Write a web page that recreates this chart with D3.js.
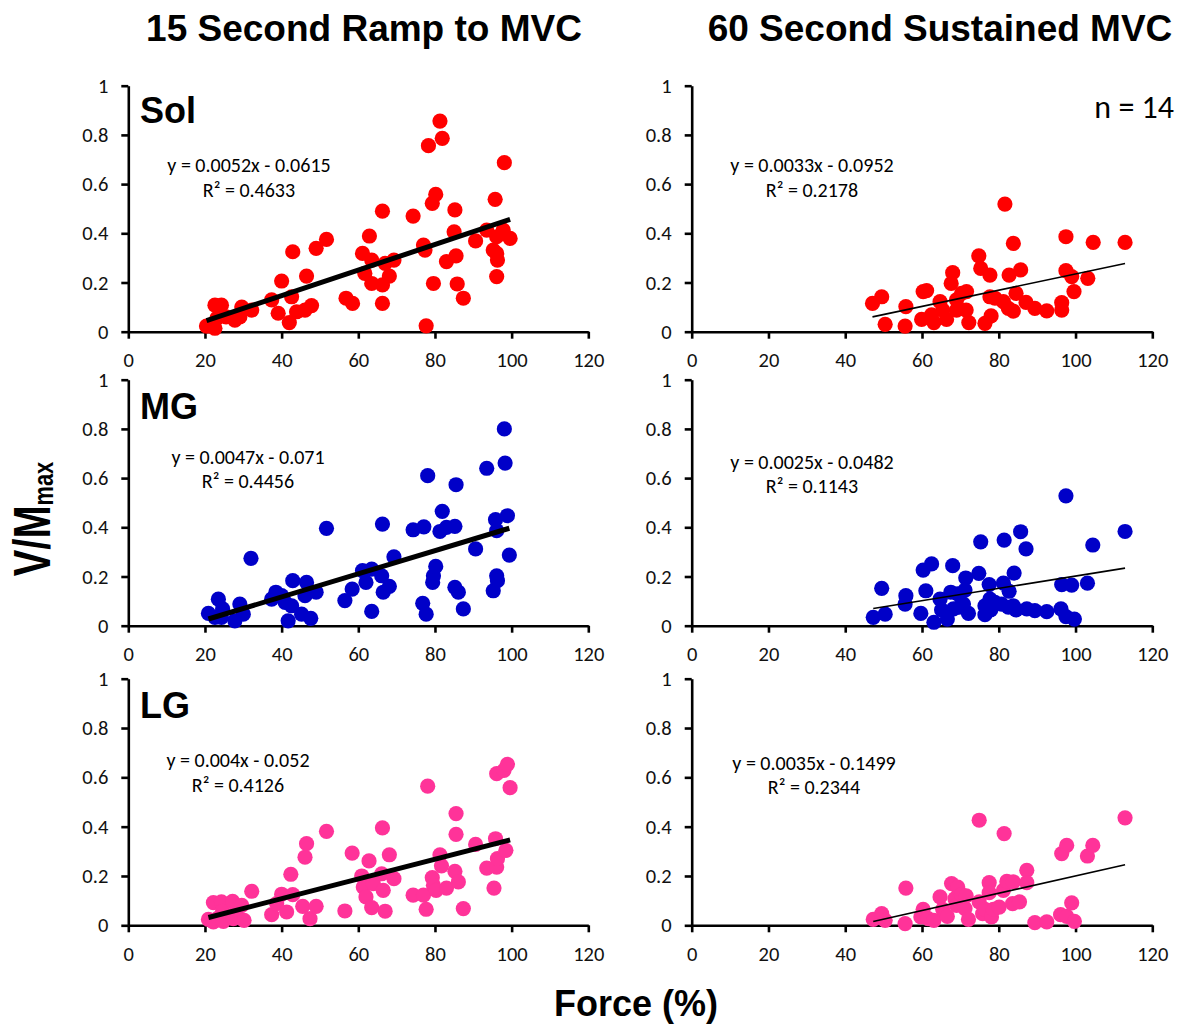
<!DOCTYPE html>
<html>
<head>
<meta charset="utf-8">
<script src="https://cdn.jsdelivr.net/npm/d3@7"></script>
<style>
  html, body { margin: 0; padding: 0; background: #ffffff; }
  svg { display: block; }
</style>
</head>
<body>
<svg id="chart" width="1180" height="1024"></svg>
<script>
// ---------------- DATA ----------------
const columnTitles = ["15 Second Ramp to MVC", "60 Second Sustained MVC"];
const muscles = ["Sol", "MG", "LG"];
const muscleColors = ["#ff0000", "#0000c8", "#ff3399"];
const xTickValues = [0, 20, 40, 60, 80, 100, 120];
const yTickValues = [0, 0.2, 0.4, 0.6, 0.8, 1];
const xAxisTitle = "Force (%)";
const sampleLabel = "n = 14";

const slopes = [0.0052, 0.0033, 0.0047, 0.0025, 0.004, 0.0035];
const intercepts = [-0.0615, -0.0952, -0.071, -0.0482, -0.052, -0.1499];
const equationLabels = ["y = 0.0052x - 0.0615", "y = 0.0033x - 0.0952",
                        "y = 0.0047x - 0.071", "y = 0.0025x - 0.0482",
                        "y = 0.004x - 0.052", "y = 0.0035x - 0.1499"];
const r2Labels = ["R² = 0.4633", "R² = 0.2178", "R² = 0.4456",
                  "R² = 0.1143", "R² = 0.4126", "R² = 0.2344"];

// Sol – ramp
const solRampForce = [20.4,22.6,22.6,24.3,23.1,25.5,27.8,29.6,29.1,32.2,37.4,39.1,40,42,42.6,42.9,43.9,46.1,46.5,47.8,49,51.7,56.8,58.5,61.1,61.7,62.9,63.5,63.5,66.3,66.3,66.3,67,68.1,69.3,74.3,77,77.4,78.3,77.7,79.6,79.3,80.2,81.3,81.9,83,85,85.2,85.5,85.8,87.4,90.6,93.5,95.7,95.2,96.1,96.1,96.3,96.1,98.1,97.8,99.6];
const solRampV = [0.023,0.014,0.108,0.108,0.054,0.06,0.047,0.10,0.06,0.088,0.129,0.075,0.206,0.037,0.142,0.325,0.081,0.088,0.226,0.106,0.339,0.375,0.136,0.115,0.318,0.237,0.389,0.196,0.291,0.19,0.115,0.49,0.278,0.226,0.291,0.47,0.352,0.332,0.756,0.024,0.196,0.522,0.558,0.856,0.786,0.285,0.406,0.495,0.308,0.194,0.136,0.369,0.413,0.538,0.332,0.318,0.224,0.291,0.386,0.687,0.413,0.379];
// Sol – sustained
const solSustForce = [47.1,49.5,50.4,55.6,55.8,59.9,60.3,61.2,62.5,63.1,64.7,65.4,66.4,67.6,68,69,69,70.3,71.6,71.5,72.2,74.8,75.3,76.4,77.7,78,77.7,79,81.2,81.6,82.5,82.7,83.8,83.8,84.5,85.7,87.1,89.4,92.5,96.4,96.4,97.5,97.5,99,99.6,103.2,104.6,112.9];
const solSustV = [0.115,0.142,0.03,0.023,0.102,0.05,0.163,0.167,0.068,0.037,0.122,0.088,0.05,0.196,0.24,0.129,0.088,0.156,0.163,0.088,0.037,0.308,0.257,0.034,0.23,0.064,0.142,0.136,0.122,0.519,0.095,0.23,0.359,0.084,0.156,0.251,0.119,0.095,0.085,0.118,0.088,0.386,0.248,0.224,0.163,0.217,0.363,0.363];
// MG – ramp
const mgRampForce = [20.9,22.6,23.5,24.6,24.3,27.8,29.1,30,32,37.4,38.5,40,40.9,41.7,42.6,42.9,45.2,46.1,46.5,47.6,49,51.7,56.5,58.4,61.1,62,63.5,63.5,66.1,66.3,66.5,68.1,69.3,74.3,77.1,76.8,77.7,78.1,79.4,79.6,80.2,81.3,81.9,83,85.2,85.2,85.5,86.1,87.4,90.6,93.5,95.2,95.8,96.1,96.3,96.1,98.1,98.3,98.9,99.4];
const mgRampV = [0.05,0.034,0.108,0.068,0.034,0.02,0.088,0.047,0.274,0.108,0.136,0.122,0.095,0.02,0.081,0.183,0.047,0.122,0.176,0.03,0.136,0.396,0.102,0.149,0.224,0.176,0.23,0.058,0.203,0.413,0.136,0.16,0.28,0.39,0.402,0.091,0.047,0.61,0.176,0.203,0.241,0.383,0.465,0.4,0.404,0.156,0.573,0.136,0.068,0.312,0.64,0.142,0.431,0.203,0.183,0.386,0.8,0.661,0.447,0.287];
// MG – sustained
const mgSustForce = [47.3,49.5,50.4,55.6,55.8,59.7,60.3,61,62.5,63.1,64.7,65.1,66.6,67.5,68,68.2,69.3,69.7,70.8,71.4,71.2,72.1,74.8,75.3,76.4,76.4,77.5,77.7,77.9,79,80.7,81.2,81.4,82.5,82.7,83.8,84,84.5,85.7,87.1,87.3,89.4,92.5,96.2,96.4,97.5,97.5,99,99.7,103.1,104.5,112.9];
const mgSustV = [0.034,0.152,0.047,0.088,0.122,0.05,0.226,0.142,0.251,0.014,0.108,0.064,0.027,0.136,0.244,0.068,0.129,0.075,0.088,0.194,0.145,0.05,0.213,0.341,0.045,0.081,0.167,0.108,0.064,0.095,0.088,0.173,0.348,0.075,0.14,0.081,0.214,0.064,0.382,0.312,0.068,0.061,0.057,0.068,0.167,0.037,0.528,0.165,0.027,0.173,0.328,0.383];
// LG – ramp
const lgRampForce = [20.9,22.2,22.2,23.5,24.3,24.8,24.6,27.2,27.4,28.3,29.6,30.2,32.2,37.4,38.7,40,41.3,42.4,42.9,45.5,46.1,46.5,47.4,49,51.7,56.5,58.4,60.9,61.3,62,62.8,63.5,63.9,66.1,66.3,66.5,67,68.1,69.3,74.3,77,77.7,78.1,79.3,79.6,80.3,81.3,81.7,83,85.2,85.5,85.5,86.1,87.4,90.6,93.5,95.4,95.8,96.1,96.3,96.1,98,98.9,98.5,99.6];
const lgRampV = [0.024,0.092,0.014,0.03,0.095,0.016,0.057,0.097,0.027,0.065,0.081,0.02,0.138,0.043,0.088,0.126,0.054,0.207,0.124,0.077,0.276,0.331,0.027,0.077,0.381,0.058,0.293,0.2,0.155,0.115,0.261,0.072,0.169,0.209,0.395,0.142,0.057,0.286,0.189,0.122,0.122,0.065,0.564,0.193,0.162,0.142,0.286,0.241,0.151,0.219,0.453,0.369,0.176,0.068,0.328,0.232,0.151,0.351,0.236,0.27,0.615,0.628,0.653,0.304,0.558];
// LG – sustained
const lgSustForce = [47.3,49.5,50.4,55.6,55.8,59.7,60.3,61.6,63.1,64.7,65.4,66.6,67.7,69.3,68.6,69,70.3,71.5,71.2,72.1,74.9,74.9,75.8,76.4,77.5,77.5,78.1,78.6,80.1,81.4,81.2,82.1,83.8,83.6,85.4,87.3,87.3,89.4,92.5,96.4,96.1,97.7,97.7,99,99.7,103.1,104.5,112.9];
const lgSustV = [0.024,0.047,0.02,0.007,0.151,0.034,0.065,0.027,0.02,0.115,0.065,0.036,0.169,0.155,0.108,0.081,0.124,0.119,0.068,0.024,0.426,0.095,0.047,0.065,0.173,0.132,0.034,0.065,0.074,0.372,0.142,0.178,0.176,0.088,0.095,0.223,0.173,0.011,0.014,0.291,0.043,0.324,0.036,0.091,0.016,0.281,0.324,0.436];

const panelForces = [solRampForce, solSustForce, mgRampForce, mgSustForce, lgRampForce, lgSustForce];
const panelValues = [solRampV, solSustV, mgRampV, mgSustV, lgRampV, lgSustV];

// ---------------- LAYOUT ----------------
const colRanges = [[128.3, 588.3], [691.7, 1152.3]];
const rowRanges = [[331.7, 85.7], [625.7, 379.7], [925.3, 678.7]];
const eqPos = [[249, 172, 196.5], [812, 172, 196.5], [248, 463.5, 488], [812, 468.5, 492.5], [238, 766.5, 791.5], [814, 769.5, 794]];
const muscleLabelBaseline = [123, 419, 718];
const tickFont = "Carlito, Calibri, Lato, 'Open Sans', sans-serif";
const boldFont = "'Liberation Sans', Arial, sans-serif";

const svg = d3.select("#chart");

// Column titles
const titleX = [364, 940];
columnTitles.forEach((t, i) => {
  svg.append("text").attr("x", titleX[i]).attr("y", 41)
    .attr("text-anchor", "middle").attr("font-family", boldFont)
    .attr("font-weight", "bold").attr("font-size", 37).attr("fill", "#000").text(t);
});

for (let r = 0; r < 3; r++) {
  for (let c = 0; c < 2; c++) {
    const idx = r * 2 + c;
    const x = d3.scaleLinear().domain([0, 120]).range(colRanges[c]);
    const y = d3.scaleLinear().domain([0, 1]).range(rowRanges[r]);
    const g = svg.append("g");

    const xAxis = d3.axisBottom(x).tickValues(xTickValues).tickSize(7).tickSizeOuter(0).tickPadding(14).tickFormat(d3.format("d"));
    const yAxis = d3.axisLeft(y).tickValues(yTickValues).tickSize(7).tickSizeOuter(0).tickPadding(13).tickFormat(d => d === 0 || d === 1 ? String(d) : d3.format(".1f")(d));

    const gx = g.append("g").attr("transform", `translate(0,${rowRanges[r][0]})`).call(xAxis);
    const gy = g.append("g").attr("transform", `translate(${colRanges[c][0]},0)`).call(yAxis);
    [gx, gy].forEach(a => {
      a.select(".domain").attr("stroke", "#000").attr("stroke-width", 2.6);
      a.selectAll(".tick line").attr("stroke", "#000").attr("stroke-width", 2.6);
      a.selectAll(".tick text").attr("font-family", tickFont).attr("font-size", 20.5).attr("fill", "#111");
    });

    const xs = panelForces[idx], ys = panelValues[idx];
    g.append("g").selectAll("circle").data(xs.map((v, i) => [v, ys[i]])).join("circle")
      .attr("cx", d => x(d[0])).attr("cy", d => y(d[1])).attr("r", 7.6)
      .attr("fill", muscleColors[r]);

    const ext = d3.extent(xs);
    const line = d3.line().x(d => x(d)).y(d => y(slopes[idx] * d + intercepts[idx]));
    g.append("path").datum(ext).attr("d", line).attr("fill", "none")
      .attr("stroke", "#000").attr("stroke-width", c === 0 ? 5 : 1.6);

    g.append("text").attr("x", eqPos[idx][0]).attr("y", eqPos[idx][1])
      .attr("text-anchor", "middle").attr("font-family", tickFont).attr("font-size", 20)
      .attr("fill", "#000").text(equationLabels[idx]);
    g.append("text").attr("x", eqPos[idx][0]).attr("y", eqPos[idx][2])
      .attr("text-anchor", "middle").attr("font-family", tickFont).attr("font-size", 20)
      .attr("fill", "#000").text(r2Labels[idx]);

    if (c === 0) {
      g.append("text").attr("x", 140).attr("y", muscleLabelBaseline[r])
        .attr("font-family", boldFont).attr("font-weight", "bold").attr("font-size", 36)
        .attr("fill", "#000").text(muscles[r]);
    }
  }
}

// n = 14
svg.append("text").attr("x", 1174).attr("y", 118).attr("text-anchor", "end")
  .attr("font-family", tickFont).attr("font-size", 32).attr("fill", "#000").text(sampleLabel);

// Y axis title V/Mmax
const yt = svg.append("text").attr("transform", "translate(50,519) rotate(-90) scale(0.78,1)")
  .attr("text-anchor", "middle").attr("font-family", boldFont).attr("font-weight", "bold")
  .attr("fill", "#000");
yt.append("tspan").attr("font-size", 51).text("V/M");
yt.append("tspan").attr("font-size", 28).attr("dy", 3).text("max");

// X axis title
svg.append("text").attr("x", 636).attr("y", 1016).attr("text-anchor", "middle")
  .attr("font-family", boldFont).attr("font-weight", "bold").attr("font-size", 36)
  .attr("fill", "#000").text(xAxisTitle);
</script>
</body>
</html>
